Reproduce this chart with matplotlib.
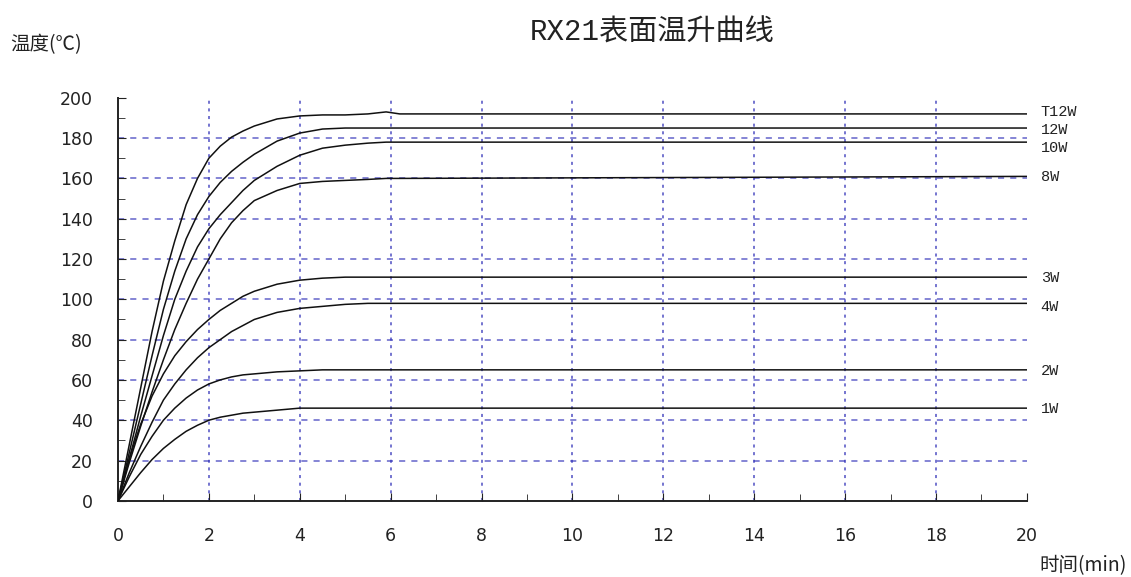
import matplotlib
matplotlib.use("Agg")
import matplotlib.pyplot as plt
from matplotlib.ticker import MultipleLocator

plt.rcParams['font.family'] = ['DejaVu Sans', 'Noto Sans CJK SC']

# time (min)
t = [0, 0.25, 0.5, 0.75, 1, 1.25, 1.5, 1.75, 2, 2.25, 2.5, 2.75, 3, 3.5, 4, 4.5, 5, 5.5, 5.9, 6.2, 20]

# surface temperature (C) for each load
t12w = [0, 28, 56, 84, 109, 129, 147, 160, 170, 176, 180.5, 183.5, 186, 189.5, 191, 191.5, 191.5, 192, 193, 192, 192]
w12 = [0, 24, 48, 72, 95, 114, 130, 142, 151, 158, 163.5, 168, 172, 178.5, 182.5, 184.5, 185, 185, 185, 185, 185]
w10 = [0, 21, 42, 62, 82, 100, 114, 126, 135, 142, 148, 154, 159, 166, 171.5, 175, 176.5, 177.5, 178, 178, 178]
w8 = [0, 19, 37, 54, 70, 85, 98, 110, 120, 130, 138, 144, 149, 154, 157.5, 158.5, 159, 159.5, 160, 160, 161]
w3 = [0, 21, 38, 52, 63, 72, 79, 85, 90, 94.5, 98, 101.5, 104, 107.5, 109.5, 110.5, 111, 111, 111, 111, 111]
w4 = [0, 14, 27, 39, 50, 58, 65, 71, 76, 80, 84, 87, 90, 93.5, 95.5, 96.5, 97.5, 98, 98, 98, 98]
w2 = [0, 12, 23, 32, 40, 46, 51, 55, 58, 60, 61.5, 62.5, 63, 64, 64.5, 65, 65, 65, 65, 65, 65]
w1 = [0, 7, 14, 20.5, 26, 30.5, 34.5, 37.5, 40, 41.5, 42.5, 43.5, 44, 45, 46, 46, 46, 46, 46, 46, 46]

series = [t12w, w12, w10, w8, w3, w4, w2, w1]
names = ["T12W", "12W", "10W", "8W", "3W", "4W", "2W", "1W"]
label_y = [193, 184, 175, 160.5, 110.5, 96, 64.5, 45.5]

fig = plt.figure(figsize=(11.31, 5.77), dpi=100)
ax = fig.add_axes([0.1043, 0.132, 0.8037, 0.6985])

# grid
grid_c = '#2f2fb8'
for gx in range(2, 20, 2):
    ax.axvline(gx, color=grid_c, lw=1.1, ls=(0, (2, 3)), alpha=0.85, zorder=1)
for gy in range(20, 200, 20):
    ax.axhline(gy, color=grid_c, lw=1.1, ls=(0, (4, 4)), alpha=0.75, zorder=1)

for ys in series:
    ax.plot(t, ys, color='#111111', lw=1.1, zorder=3)

for name, ly in zip(names, label_y):
    ax.text(20.3, ly, name, fontsize=11, family=['Liberation Mono', 'DejaVu Sans'],
            va='center', ha='left', color='#222222', clip_on=False)

ax.set_xlim(0, 20)
ax.set_ylim(0, 200)
ax.xaxis.set_major_locator(MultipleLocator(2))
ax.xaxis.set_minor_locator(MultipleLocator(1))
ax.yaxis.set_major_locator(MultipleLocator(20))
ax.yaxis.set_minor_locator(MultipleLocator(10))
ax.tick_params(axis='both', which='both', direction='in', colors='#222222')
ax.tick_params(axis='x', which='major', length=6, pad=19, labelsize=12.5)
ax.tick_params(axis='y', which='major', length=6, pad=18, labelsize=12.5)
ax.tick_params(axis='both', which='minor', length=5)
for s in ['top', 'right']:
    ax.spines[s].set_visible(False)
for s in ['left', 'bottom']:
    ax.spines[s].set_linewidth(1.4)
    ax.spines[s].set_color('#222222')

fig.text(652 / 1131, 1 - 33 / 577, "RX21表面温升曲线", fontsize=21,
         family=['Liberation Mono', 'Noto Sans CJK SC'], ha='center', va='center', color='#222222')
fig.text(10 / 1131, 1 - 45 / 577, "温度(℃)", fontsize=14,
         family=['Noto Sans CJK SC', 'DejaVu Sans'], ha='left', va='center', color='#222222')
fig.text(1127 / 1131, 1 - 566 / 577, "时间(min)", fontsize=14,
         family=['Noto Sans CJK SC', 'DejaVu Sans'], ha='right', va='center', color='#222222')

fig.savefig("out.png", dpi=100)
